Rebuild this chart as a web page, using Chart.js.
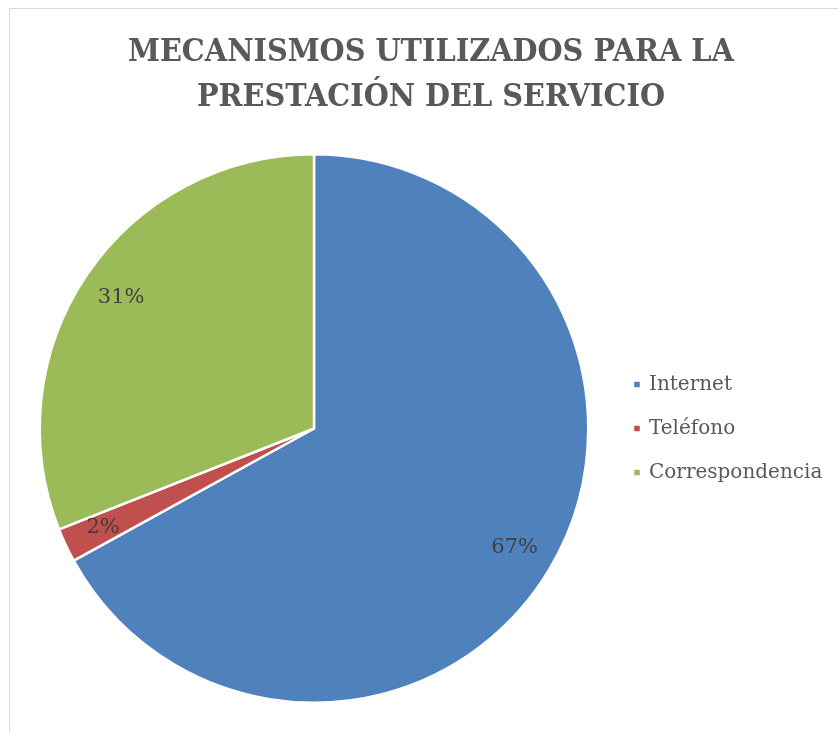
<!DOCTYPE html>
<html><head><meta charset="utf-8">
<script src="https://cdn.jsdelivr.net/npm/chart.js@4.4.1/dist/chart.umd.min.js"></script>
<style>
html,body{margin:0;padding:0;background:#fff;overflow:hidden;}
#wrap{position:relative;width:838px;height:732px;overflow:hidden;}
#frame{position:absolute;left:9px;top:8px;width:880px;height:780px;border:1px solid #d9d9d9;box-sizing:border-box;}
canvas{position:absolute;left:0;top:0;}
</style></head><body>
<div id="wrap"><div id="frame"></div><canvas id="c" width="845" height="732"></canvas></div>
<script>
const titleLines = ['MECANISMOS UTILIZADOS PARA LA', 'PRESTACIÓN DEL SERVICIO'];
const categories = ['Internet', 'Teléfono', 'Correspondencia'];
const percentages = [67, 2, 31];
const sliceColors = ['#4F81BD', '#C0504D', '#9BBB59'];

const serif = '"DejaVu Serif"';
const titleFamily = '"DejaVu Serif Condensed", "DejaVu Serif"';
const legendFs = 20;
const labelFs = 21;
const legendPad = 44 - legendFs;
const boxW = 4, boxH = 8;

const mctx = document.createElement('canvas').getContext('2d');
mctx.font = legendFs + 'px ' + serif;
const textW = Math.max(...categories.map(c => mctx.measureText(c).width));

const canvasW = 845;                   // title centred at x = 431
const legendLeft = 635 - legendPad;
const padLeft = 2 * 314 - legendLeft;  // pie centred at x = 314
const legendW = legendPad + boxW + legendFs / 2 + textW + 10;
const spacer = Math.max(canvasW - legendLeft - legendW, 0);

// empty layout box on the far right so the title centre and pie centre can both match
const rightSpacer = {
  id: 'rightSpacer',
  beforeInit(chart) {
    Chart.layouts.addBox(chart, {
      position: 'right',
      weight: 5000,
      fullSize: true,
      options: { display: false },
      left: 0, top: 0, right: 0, bottom: 0, width: 0, height: 0,
      isHorizontal() { return false; },
      update(maxWidth, maxHeight) { this.width = spacer; this.height = maxHeight; },
      draw() {}
    });
  }
};

const sliceLabels = {
  id: 'sliceLabels',
  afterDatasetsDraw(chart) {
    const ctx = chart.ctx;
    const meta = chart.getDatasetMeta(0);
    ctx.save();
    ctx.font = labelFs + 'px ' + serif;
    ctx.fillStyle = '#404040';
    ctx.textAlign = 'center';
    ctx.textBaseline = 'middle';
    meta.data.forEach((arc, i) => {
      const p = arc.getProps(['x', 'y', 'startAngle', 'endAngle', 'outerRadius'], true);
      const mid = (p.startAngle + p.endAngle) / 2;
      const r = p.outerRadius * 0.85;
      ctx.fillText(percentages[i] + '%', p.x + Math.cos(mid) * r, p.y + Math.sin(mid) * r);
    });
    ctx.restore();
  }
};

new Chart(document.getElementById('c'), {
  type: 'pie',
  data: {
    labels: categories,
    datasets: [{
      data: percentages,
      backgroundColor: sliceColors,
      borderColor: '#ffffff',
      borderWidth: 2.5
    }]
  },
  options: {
    responsive: false,
    animation: false,
    devicePixelRatio: 1,
    layout: { padding: { top: 0, bottom: 28, left: padLeft, right: 0 } },
    plugins: {
      tooltip: { enabled: false },
      title: {
        display: true,
        text: titleLines,
        color: '#595959',
        font: { family: titleFamily, size: 32, weight: 'bold', lineHeight: '45px' },
        padding: { top: 30, bottom: 33 }
      },
      legend: {
        position: 'right',
        align: 'center',
        fullSize: false,
        labels: {
          usePointStyle: true,
          pointStyle: 'rect',
          boxWidth: boxW,
          boxHeight: boxH,
          padding: legendPad,
          color: '#595959',
          font: { family: serif, size: legendFs }
        }
      }
    }
  },
  plugins: [rightSpacer, sliceLabels]
});
</script>
</body></html>
